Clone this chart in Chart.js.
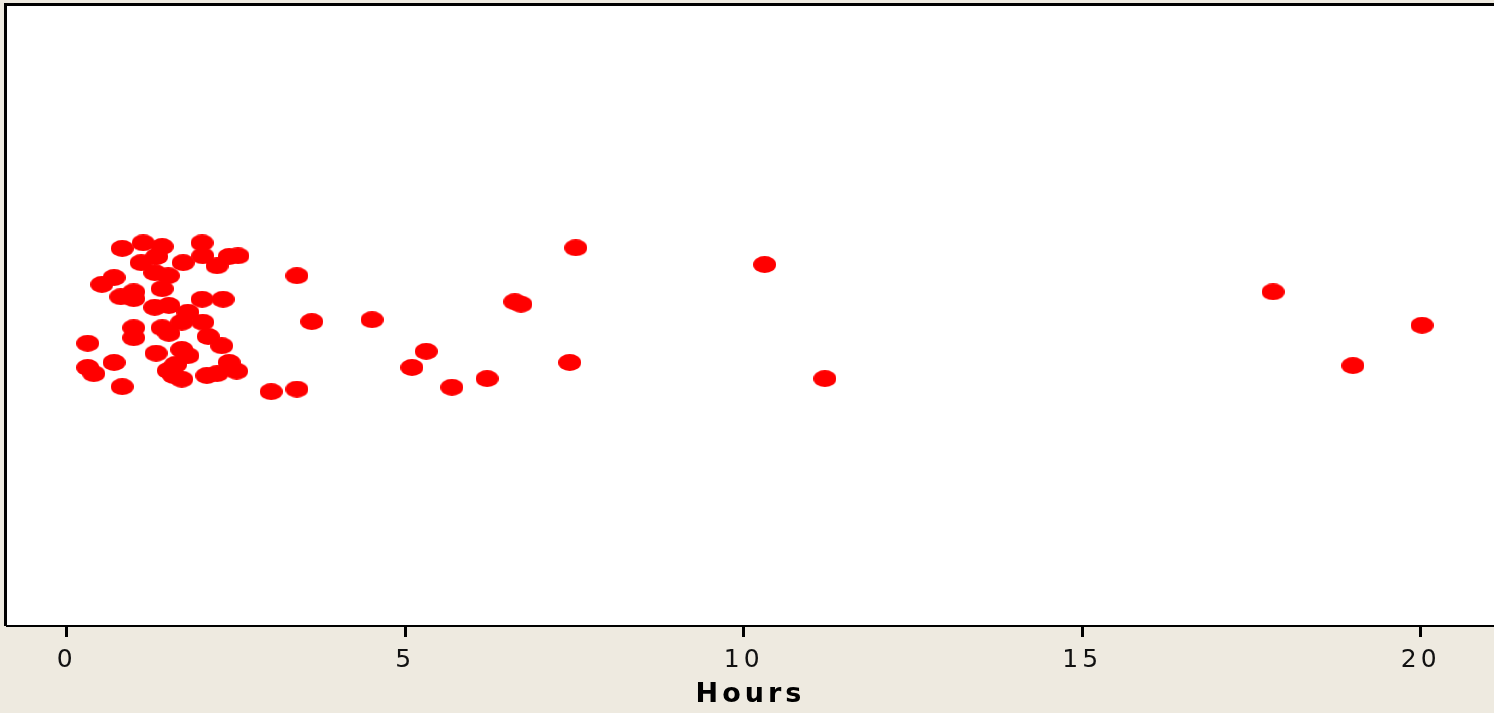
<!DOCTYPE html>
<html>
<head>
<meta charset="utf-8">
<script src="https://cdn.jsdelivr.net/npm/chart.js@4/dist/chart.umd.min.js"></script>
<style>
  html, body { margin: 0; padding: 0; background: #eeeae0; }
  #wrap { width: 1494px; height: 713px; position: relative; }
</style>
</head>
<body>
<div id="wrap"><canvas id="c"></canvas></div>
<script>
const hours = [
  0.82, 1.13, 1.41, 2.00, 1.10, 1.33, 1.72, 2.01, 2.22, 2.40,
  2.53, 1.30, 1.50, 0.70, 0.52, 1.41, 0.80, 0.99, 0.99, 1.30,
  1.51, 2.00, 2.31, 1.79, 0.99, 0.99, 1.41, 1.51, 1.70, 2.01,
  2.09, 0.31, 1.32, 1.70, 2.29, 1.79, 0.70, 0.31, 0.40, 1.50,
  1.61, 1.70, 1.58, 2.40, 2.07, 2.22, 2.51, 0.82,
  3.40, 3.62, 4.51, 3.02, 3.40, 5.10, 5.31, 5.69, 6.21, 6.62,
  6.71, 7.43, 7.52, 10.31, 11.20, 17.82, 19.00, 20.02
];
// vertical jitter (0-100 across the panel)
const jitter = [
  60.9, 61.8, 61.2, 61.8, 58.6, 59.6, 58.6, 59.7, 58.1, 59.6,
  59.7, 57.0, 56.5, 56.2, 55.1, 54.4, 53.1, 53.9, 52.8, 51.4,
  51.7, 52.7, 52.7, 50.6, 48.1, 46.5, 48.1, 47.2, 49.0, 49.0,
  46.7, 45.6, 44.0, 44.6, 45.2, 43.6, 42.5, 41.7, 40.7, 41.2,
  42.2, 39.8, 40.4, 42.5, 40.4, 40.7, 41.1, 38.6,
  56.5, 49.1, 49.4, 37.8, 38.2, 41.7, 44.3, 38.5, 39.9, 52.3,
  51.9, 42.5, 61.0, 58.3, 39.9, 53.9, 42.0, 48.5
];
const xTicks = [0, 5, 10, 15, 20];

// oval marker like the original dotplot symbols
const dot = document.createElement('canvas');
dot.width = 23;
dot.height = 17;
const dctx = dot.getContext('2d');
dctx.fillStyle = '#ff0000';
dctx.beginPath();
dctx.ellipse(11.5, 8.5, 11.5, 8.5, 0, 0, Math.PI * 2);
dctx.fill();

const frame = {
  id: 'frame',
  beforeDraw(chart) {
    const { ctx, chartArea: a } = chart;
    ctx.save();
    ctx.fillStyle = '#ffffff';
    ctx.fillRect(a.left, a.top, a.right - a.left, a.bottom - a.top);
    ctx.restore();
    ctx.letterSpacing = '4px';
  },
  afterDraw(chart) {
    const { ctx, chartArea: a } = chart;
    ctx.save();
    ctx.strokeStyle = '#000';
    ctx.lineWidth = 3;
    ctx.beginPath();
    ctx.moveTo(a.left - 1.5, a.bottom);
    ctx.lineTo(a.left - 1.5, a.top - 1.5);
    ctx.lineTo(a.right, a.top - 1.5);
    ctx.stroke();
    ctx.restore();
  }
};

new Chart(document.getElementById('c'), {
  type: 'scatter',
  data: {
    datasets: [{
      data: hours.map((h, i) => ({ x: h, y: jitter[i] })),
      pointStyle: dot,
      pointRadius: 11,
      pointHoverRadius: 11
    }]
  },
  options: {
    responsive: true,
    maintainAspectRatio: false,
    animation: false,
    layout: { autoPadding: false, padding: { left: 7, top: 6, right: 0, bottom: 0 } },
    plugins: { legend: { display: false }, tooltip: { enabled: false } },
    scales: {
      x: {
        type: 'linear',
        min: -0.882,
        max: 21.083,
        afterFit(scale) { scale.height = 87; },
        afterBuildTicks(scale) { scale.ticks = xTicks.map(v => ({ value: v })); },
        ticks: {
          color: '#111',
          font: { family: 'DejaVu Sans', size: 25 },
          padding: 8,
          maxRotation: 0
        },
        grid: {
          drawOnChartArea: false,
          drawTicks: true,
          tickLength: 11,
          tickWidth: 3,
          tickColor: '#000'
        },
        border: { display: true, color: '#000', width: 2 },
        title: {
          display: true,
          text: 'Hours',
          color: '#000',
          font: { family: 'DejaVu Sans', size: 27, weight: 'bold' },
          padding: { top: 0, bottom: 2 }
        }
      },
      y: {
        display: false,
        min: 0,
        max: 100
      }
    }
  },
  plugins: [frame]
});
</script>
</body>
</html>
